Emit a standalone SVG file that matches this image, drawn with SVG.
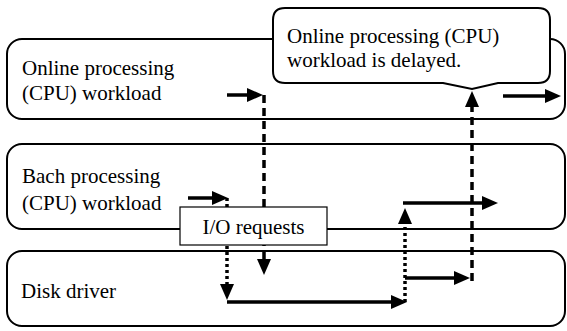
<svg xmlns="http://www.w3.org/2000/svg" width="567" height="331" viewBox="0 0 567 331">
  <style>
    .lane { fill: #fff; stroke: #000; stroke-width: 2; }
    .label { font-family: 'Liberation Serif', 'DejaVu Serif', serif; font-size: 21px; fill: #000; }
    .flow { fill: none; stroke: #000; stroke-width: 3.5; }
    .dash { stroke-dasharray: 8 5; }
    .dot { stroke-dasharray: 3 3; }
  </style>
  <defs>
    <marker id="head" markerUnits="userSpaceOnUse" markerWidth="16" markerHeight="14" refX="4" refY="7" orient="auto" overflow="visible">
      <path d="M0,0 L16,7 L0,14 Z" fill="#000"/>
    </marker>
  </defs>

  <rect width="567" height="331" fill="#fff"/>

  <!-- swim lanes -->
  <g id="online-lane">
    <rect class="lane" x="7" y="39" width="558" height="80" rx="15"/>
    <text class="label" font-family="Liberation Serif, serif" x="22" y="75">Online processing</text>
    <text class="label" font-family="Liberation Serif, serif" x="22" y="100">(CPU) workload</text>
  </g>
  <g id="batch-lane">
    <rect class="lane" x="7" y="144" width="558" height="85" rx="15"/>
    <text class="label" font-family="Liberation Serif, serif" x="22" y="183">Bach processing</text>
    <text class="label" font-family="Liberation Serif, serif" x="22" y="210">(CPU) workload</text>
  </g>
  <g id="disk-lane">
    <rect class="lane" x="7" y="251" width="558" height="75" rx="15"/>
    <text class="label" font-family="Liberation Serif, serif" x="21" y="298">Disk driver</text>
  </g>

  <!-- callout bubble -->
  <g id="delay-callout">
    <path class="lane" d="M285,8 H538 Q550,8 550,20 V71 Q550,83 538,83 H498 L472,89 L443,83 H285 Q273,83 273,71 V20 Q273,8 285,8 Z"/>
    <text class="label" font-family="Liberation Serif, serif" x="287" y="43">Online processing (CPU)</text>
    <text class="label" font-family="Liberation Serif, serif" x="287" y="67">workload is delayed.</text>
  </g>

  <!-- flow of work between lanes -->
  <g id="connectors">
    <path class="flow" d="M227,95 H251" marker-end="url(#head)"/>
    <path class="flow dash" d="M264,95 V263" marker-end="url(#head)"/>
    <path class="flow" d="M188,198 H216" marker-end="url(#head)"/>
    <path class="flow dot" d="M227,198 V288" marker-end="url(#head)"/>
    <path class="flow" d="M227,302 H395" marker-end="url(#head)"/>
    <path class="flow dot" d="M405,302 V220" marker-end="url(#head)"/>
    <path class="flow" d="M403,203 H486" marker-end="url(#head)"/>
    <path class="flow" d="M405,278 H458" marker-end="url(#head)"/>
    <path class="flow dash" d="M472,281 V103" marker-end="url(#head)"/>
    <path class="flow" d="M503,96 H549" marker-end="url(#head)"/>
  </g>

  <!-- label box over the request lines -->
  <g id="io-requests">
    <rect x="180" y="207" width="147" height="38" fill="#fff" stroke="#000" stroke-width="1.2"/>
    <text class="label" font-family="Liberation Serif, serif" x="253.5" y="234" text-anchor="middle">I/O requests</text>
  </g>
</svg>
